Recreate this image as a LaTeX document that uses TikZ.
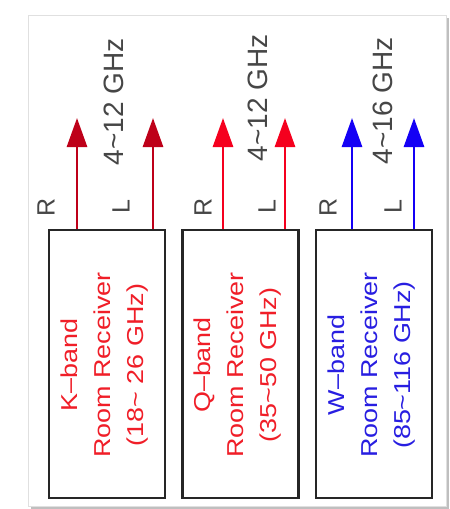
\documentclass[tikz,border=0pt]{standalone}
\usepackage{fontspec}
\setmainfont{Liberation Sans}
\usetikzlibrary{arrows.meta}
\definecolor{kred}{RGB}{190,0,25}
\definecolor{qred}{RGB}{245,0,30}
\definecolor{wblue}{RGB}{20,0,245}
\definecolor{ktext}{RGB}{240,30,40}
\definecolor{wtext}{RGB}{40,30,225}
\definecolor{lbl}{RGB}{70,70,70}
\tikzset{
  rxbox/.style={draw=black!85, line width=2.8pt, fill=white, minimum width=116pt, minimum height=268pt, inner sep=0pt},
  rxtext/.style={rotate=90, align=center, font=\fontsize{23}{33}\selectfont, inner sep=0pt},
  sig/.style={line width=2.8pt, -{Triangle[width=20pt,length=29pt]}},
  pol/.style={rotate=90, text=lbl, font=\fontsize{25}{25}\selectfont, inner sep=0pt},
  band/.style={rotate=90, text=lbl, font=\fontsize{28}{28}\selectfont, inner sep=0pt},
}
\newcommand{\tl}{\char`\~}
\newcommand{\stretchit}[1]{\scalebox{1.17}[1]{#1}}
\begin{document}
\begin{tikzpicture}[x=1pt,y=-1pt]
\useasboundingbox (0,0) rectangle (450,509);
% frame with shadow
\fill[black!25] (31,18) rectangle (449,509);
\draw[black!12, line width=1pt, fill=white] (28,15) rectangle (446,506);

% boxes
\node[rxbox] (b1) at (107,364) {};
\node[rxbox] (b2) at (240.5,364) {};
\node[rxbox] (b3) at (374,364) {};

\node[rxtext, text=ktext] (t1) at (105,365) {\stretchit{K\textendash band}\\ \stretchit{Room Receiver}\\ \stretchit{(18\tl\ 26 GHz)}};
\node[rxtext, text=ktext] (t2) at (238,365) {\stretchit{Q\textendash band}\\ \stretchit{Room Receiver}\\ \stretchit{(35\tl 50 GHz)}};
\node[rxtext, text=wtext] (t3) at (372,365) {\stretchit{W\textendash band}\\ \stretchit{Room Receiver}\\ \stretchit{(85\tl 116 GHz)}};

% arrow tips
\coordinate (k1) at (77,118);
\coordinate (k2) at (153,118);
\coordinate (q1) at (223,118);
\coordinate (q2) at (285,118);
\coordinate (w1) at (352,118);
\coordinate (w2) at (414,118);

\draw[sig, kred] (k1 |- b1.north) -- (k1);
\draw[sig, kred] (k2 |- b1.north) -- (k2);
\draw[sig, qred] (q1 |- b2.north) -- (q1);
\draw[sig, qred] (q2 |- b2.north) -- (q2);
\draw[sig, wblue] (w1 |- b3.north) -- (w1);
\draw[sig, wblue] (w2 |- b3.north) -- (w2);

% labels
\node[pol] (r1) at (46,207) {R};
\node[pol] (l1) at (121,207) {L};
\node[band] (g1) at (114,102) {4\tl 12 GHz};
\node[pol] (r2) at (203,207) {R};
\node[pol] (l2) at (267,207) {L};
\node[band] (g2) at (258,98) {4\tl 12 GHz};
\node[pol] (r3) at (328,207) {R};
\node[pol] (l3) at (393,207) {L};
\node[band] (g3) at (383,101) {4\tl 16 GHz};
\end{tikzpicture}
\end{document}
